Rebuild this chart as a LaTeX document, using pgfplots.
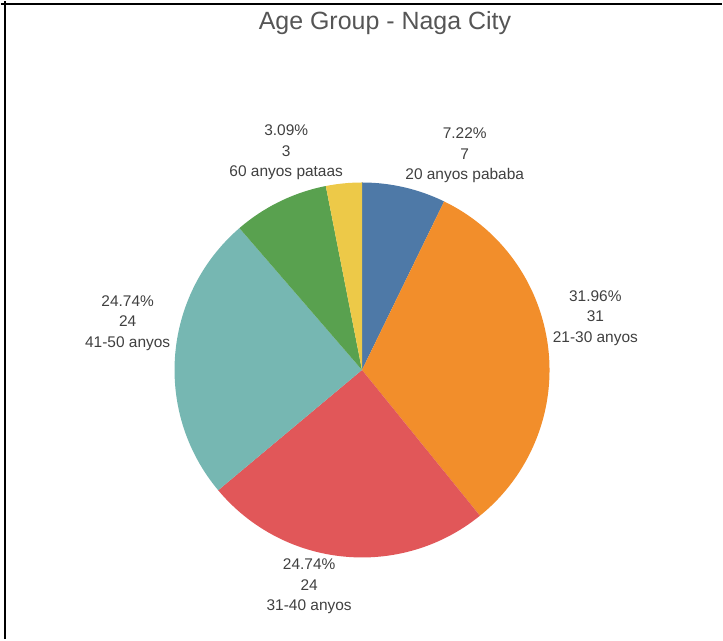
\documentclass[border=0pt]{standalone}
\usepackage{pgfplots}
\usepackage{pgfplotstable}
\pgfplotsset{compat=1.18}
\usepackage{fontspec}
\setmainfont{Liberation Sans}
\definecolor{tblue}{HTML}{4E79A7}
\definecolor{torange}{HTML}{F28E2B}
\definecolor{tred}{HTML}{E15759}
\definecolor{tteal}{HTML}{76B7B2}
\definecolor{tgreen}{HTML}{59A14F}
\definecolor{tyellow}{HTML}{EDC948}
\definecolor{labgray}{HTML}{404040}
\definecolor{titlegray}{HTML}{555555}
\pgfkeys{/pgf/number format/assume math mode=true}

\pgfplotstableread[col sep=comma]{
value,lx,ly,showlab,col,name
7,465,485,1,tblue,20 anyos pababa
31,596,322,1,torange,21-30 anyos
24,309,53,1,tred,31-40 anyos
24,127,317,1,tteal,41-50 anyos
8,0,0,0,tgreen,51-60 anyos
3,286,488,1,tyellow,60 anyos pataas
}\agedata

\begin{document}
\begin{tikzpicture}
\begin{axis}[
  scale only axis, width=723pt, height=640pt,
  xmin=0, xmax=723, ymin=0, ymax=640,
  hide axis, clip=false,
]
\path (axis cs:0,0) rectangle (axis cs:723,640);
% total
\def\total{0}
\pgfplotsforeachungrouped \i in {0,...,5}{%
  \pgfplotstablegetelem{\i}{value}\of\agedata
  \pgfmathsetmacro\total{\total+\pgfplotsretval}%
}
\def\cum{0}
\pgfplotsforeachungrouped \i in {0,...,5}{%
  \pgfplotstablegetelem{\i}{value}\of\agedata \let\val\pgfplotsretval
  \pgfplotstablegetelem{\i}{col}\of\agedata \let\col\pgfplotsretval
  \pgfplotstablegetelem{\i}{lx}\of\agedata \let\lx\pgfplotsretval
  \pgfplotstablegetelem{\i}{ly}\of\agedata \let\ly\pgfplotsretval
  \pgfplotstablegetelem{\i}{showlab}\of\agedata \let\showlab\pgfplotsretval
  \pgfplotstablegetelem{\i}{name}\of\agedata \let\nm\pgfplotsretval
  \pgfmathsetmacro\sa{90-360*(\cum/\total)}%
  \pgfmathsetmacro\cum{\cum+\val}%
  \pgfmathsetmacro\ea{90-360*(\cum/\total)}%
  \pgfmathsetmacro\sx{362+188*cos(\sa)}%
  \pgfmathsetmacro\sy{270+188*sin(\sa)}%
  \pgfmathsetmacro\pct{100*(\val/\total)}%
  \edef\cmd{\noexpand\fill[\col] (axis cs:362,270) -- (axis cs:\sx,\sy) arc[start angle=\sa, end angle=\ea, radius=188pt] -- cycle;}%
  \cmd
  \ifnum\showlab=1
    \edef\cmd{\noexpand\node[align=center, text=labgray, font=\noexpand\fontsize{15.5}{20.5}\noexpand\selectfont] at (axis cs:\lx,\ly) {\noexpand\pgfmathprintnumber[fixed,fixed zerofill,precision=2]{\pct}\noexpand\%\noexpand\\\val\noexpand\\\nm};}%
    \cmd
  \fi
}
\node[text=titlegray, font=\fontsize{25}{29}\selectfont] at (axis cs:385,618) {Age Group - Naga City};
\draw[line width=2pt] (axis cs:4,0) -- (axis cs:4,640);
\draw[line width=2pt] (axis cs:0,637) -- (axis cs:52,637);
\draw[line width=1.2pt] (axis cs:52,637) -- (axis cs:680,637);
\draw[line width=2pt] (axis cs:680,637) -- (axis cs:723,637);
\end{axis}
\end{tikzpicture}
\end{document}
